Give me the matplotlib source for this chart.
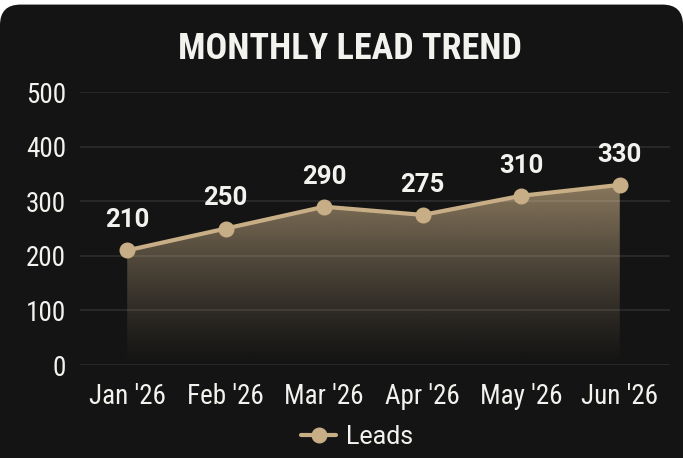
import matplotlib
matplotlib.use("Agg")
import matplotlib.pyplot as plt
import numpy as np
from matplotlib.patches import FancyBboxPatch, Polygon
from matplotlib.colors import to_rgb

months = ["Jan '26", "Feb '26", "Mar '26", "Apr '26", "May '26", "Jun '26"]
leads = [210, 250, 290, 275, 310, 330]
yticks = [0, 100, 200, 300, 400, 500]

BG = "#141414"
LINE = "#c8ae86"
TEXT = "#f2f2ee"

fig = plt.figure(figsize=(6.83, 4.58), dpi=100)
fig.patch.set_facecolor("white")
card = FancyBboxPatch((0.0, -0.05), 1.0, 1.04, boxstyle="round,pad=0,rounding_size=0.03",
                      transform=fig.transFigure, facecolor=BG, edgecolor="none",
                      mutation_aspect=683/458, zorder=-10)
fig.patches.append(card)

ax = fig.add_axes([0.117, 0.203, 0.864, 0.596])
ax.set_zorder(5)
ax.set_facecolor("none")
x = np.arange(len(months))

# gradient fill under the line
top = max(leads)
grad = np.linspace(0, 1, 256)
rgb = np.array(to_rgb(LINE))
img = np.zeros((256, 1, 4))
img[:, 0, :3] = rgb
img[:, 0, 3] = (grad ** 1.2) * 0.65
im = ax.imshow(img, extent=[x[0], x[-1], 0, top], origin="lower", aspect="auto", zorder=1,
               interpolation="bilinear")
poly = Polygon(np.column_stack([np.r_[x, x[-1], x[0]], np.r_[leads, 0, 0]]),
               closed=True, facecolor="none", edgecolor="none", transform=ax.transData)
ax.add_patch(poly)
im.set_clip_path(poly)
ax.set_xlim(-0.48, 5.51)
ax.set_ylim(0, 500)

for yt in yticks:
    ax.axhline(yt, color="white", alpha=0.1, lw=1.2, zorder=2)

ax.plot(x, leads, color=LINE, lw=3, marker="o", ms=10.5, mfc=LINE, mec=LINE,
        zorder=4, label="Leads", solid_capstyle="round")

for xi, v in zip(x, leads):
    ax.annotate(str(v), (xi, v), xytext=(0, 13), textcoords="offset points",
                ha="center", va="bottom", color=TEXT, fontsize=18.5,
                fontfamily="Roboto", fontweight="bold", zorder=5)

ax.set_xticks(x)
ax.set_xticklabels(months)
ax.set_yticks(yticks)
for s in ax.spines.values():
    s.set_visible(False)
ax.tick_params(length=0, colors=TEXT, labelsize=19.5, pad=13)
ax.tick_params(axis="y", pad=10)
for lab in ax.get_xticklabels() + ax.get_yticklabels():
    lab.set_fontfamily("Roboto Condensed")
    lab.set_color(TEXT)

fig.text(0.513, 0.892, "MONTHLY LEAD TREND", ha="center", va="center", color=TEXT,
         fontsize=26, fontfamily="Roboto Condensed", fontweight="bold")

leg = ax.legend(loc="center", bbox_to_anchor=(0.47, -0.262), frameon=False,
                prop={"family": "Roboto", "size": 18}, handlelength=1.4,
                handletextpad=0.4, markerscale=1.0)
for t in leg.get_texts():
    t.set_color(TEXT)

fig.savefig("out.png", dpi=100, facecolor=fig.get_facecolor())
